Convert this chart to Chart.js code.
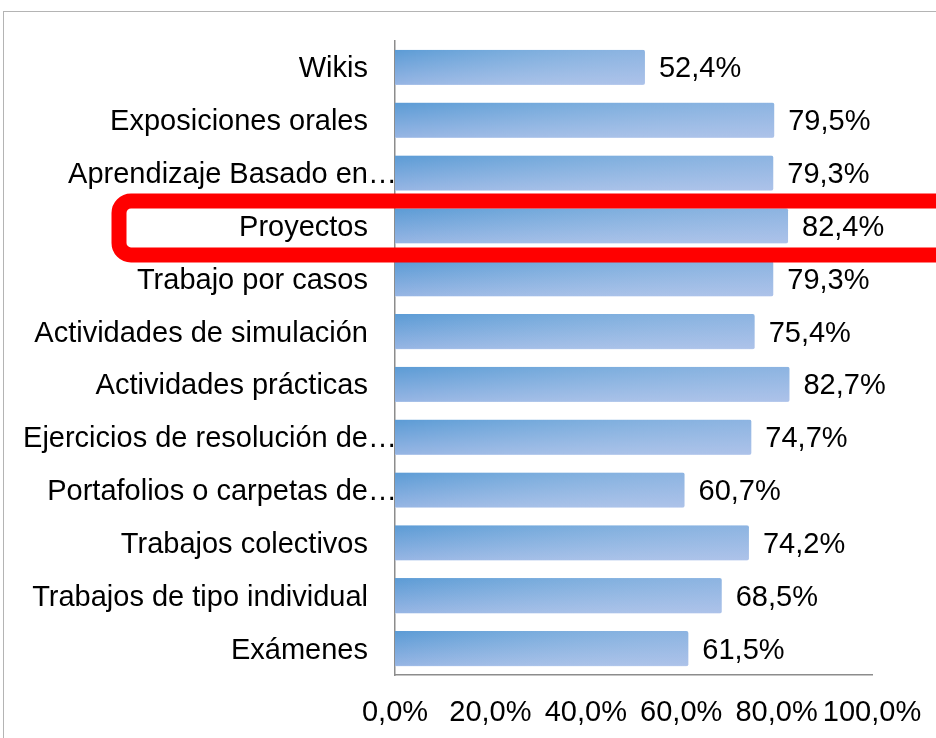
<!DOCTYPE html>
<html>
<head>
<meta charset="utf-8">
<script src="https://cdn.jsdelivr.net/npm/chart.js@4/dist/chart.umd.min.js"></script>
<style>
  html, body { margin: 0; padding: 0; background: #fff; overflow: hidden; }
  #frame { position: absolute; left: 3px; top: 11px; width: 1000px; height: 1000px; border: 1px solid #b4b4b4; }
  #wrap { position: absolute; left: 0; top: 0; width: 936px; height: 738px; }
</style>
</head>
<body>
<div id="frame"></div>
<div id="wrap"><canvas id="chart"></canvas></div>
<script>
// categories, top to bottom as in the picture (Excel cut the long ones)
const categories = [
  'Wikis',
  'Exposiciones orales',
  'Aprendizaje Basado en\u2026',
  'Proyectos',
  'Trabajo por casos',
  'Actividades de simulación',
  'Actividades prácticas',
  'Ejercicios de resolución de\u2026',
  'Portafolios o carpetas de\u2026',
  'Trabajos colectivos',
  'Trabajos de tipo individual',
  'Exámenes'
];
const truncated = [false, false, true, false, false, false, false, true, true, false, false, false];
const values = [52.4, 79.5, 79.3, 82.4, 79.3, 75.4, 82.7, 74.7, 60.7, 74.2, 68.5, 61.5];
const xTicks = [0, 20, 40, 60, 80, 100];
const highlighted = 'Proyectos';

const FONT = '"Liberation Sans", Arial, sans-serif';
const FSIZE = 29;
const fmt = v => v.toFixed(1).replace('.', ',') + '%';

// bar fill: vertical blue gradient plus a light wash towards the right end
function barFill(ctx) {
  const chart = ctx.chart;
  const xs = chart.scales.x, ys = chart.scales.y;
  if (!chart.chartArea || !xs || ctx.type !== 'data') return '#6fa3da';
  const x0 = xs.getPixelForValue(0);
  const x1 = xs.getPixelForValue(values[ctx.dataIndex]);
  const band = (ys.bottom - ys.top) / categories.length;
  const h = band * 0.67;
  const top = ys.getPixelForValue(ctx.dataIndex) - h / 2;
  const w = Math.max(1, Math.ceil(x1 - x0));
  const hh = Math.max(1, Math.ceil(h));
  const off = document.createElement('canvas');
  off.width = w; off.height = hh;
  const c = off.getContext('2d');
  let g = c.createLinearGradient(0, 0, 0, hh);
  g.addColorStop(0, '#5b9bd5');
  g.addColorStop(1, '#98b6e4');
  c.fillStyle = g;
  c.fillRect(0, 0, w, hh);
  g = c.createLinearGradient(0, 0, w, 0);
  g.addColorStop(0, 'rgba(255,255,255,0)');
  g.addColorStop(1, 'rgba(200,210,240,0.45)');
  c.fillStyle = g;
  c.fillRect(0, 0, w, hh);
  c.fillStyle = 'rgba(220,230,248,0.7)';
  c.fillRect(0, hh - 1, w, 1);
  const pat = chart.ctx.createPattern(off, 'no-repeat');
  pat.setTransform(new DOMMatrix().translate(x0, top));
  return pat;
}

const labelsPlugin = {
  id: 'labelsPlugin',
  afterDatasetsDraw(chart) {
    const ctx = chart.ctx;
    const ys = chart.scales.y;
    const meta = chart.getDatasetMeta(0);
    ctx.save();
    ctx.font = FSIZE + 'px ' + FONT;
    ctx.fillStyle = '#000';
    ctx.textBaseline = 'middle';
    categories.forEach((lab, i) => {
      const y = ys.getPixelForValue(i);
      ctx.textAlign = 'right';
      ctx.fillText(lab, truncated[i] ? chart.chartArea.left + 2 : chart.chartArea.left - 27, y + 2);
      ctx.textAlign = 'left';
      ctx.fillText(fmt(values[i]), meta.data[i].x + 14, y + 2);
    });
    ctx.restore();
  },
  afterDraw(chart) {
    // red highlight round the Proyectos row
    const ctx = chart.ctx;
    const i = categories.indexOf(highlighted);
    const y = chart.scales.y.getPixelForValue(i);
    ctx.save();
    ctx.strokeStyle = '#ff0000';
    ctx.lineWidth = 15;
    ctx.beginPath();
    ctx.roundRect(119, y - 25, 900, 54, 12);
    ctx.stroke();
    ctx.restore();
  }
};

new Chart(document.getElementById('chart'), {
  type: 'bar',
  data: {
    labels: categories,
    datasets: [{
      data: values,
      backgroundColor: barFill,
      borderWidth: 0,
      borderRadius: 2,
      borderSkipped: 'start',
      categoryPercentage: 1,
      barPercentage: 0.67
    }]
  },
  options: {
    indexAxis: 'y',
    responsive: true,
    maintainAspectRatio: false,
    animation: false,
    layout: { padding: { left: 395, right: 64, top: 41, bottom: 9 } },
    plugins: { legend: { display: false }, tooltip: { enabled: false } },
    scales: {
      x: {
        min: 0,
        max: 100,
        afterBuildTicks: s => { s.ticks = xTicks.map(v => ({ value: v })); },
        afterFit: s => { s.height = 54; s.paddingLeft = 0; s.paddingRight = 0; },
        grid: { display: false, drawTicks: false },
        border: { display: true, color: '#8c8c8c', width: 1.5 },
        ticks: {
          padding: 21,
          color: '#000',
          font: { family: FONT, size: FSIZE },
          maxRotation: 0,
          autoSkip: false,
          callback: v => fmt(v)
        }
      },
      y: {
        grid: { display: false, drawTicks: false },
        border: { display: true, color: '#8c8c8c', width: 1.5 },
        ticks: { display: false },
        afterFit: s => { s.width = 0; }
      }
    }
  },
  plugins: [labelsPlugin]
});
</script>
</body>
</html>
